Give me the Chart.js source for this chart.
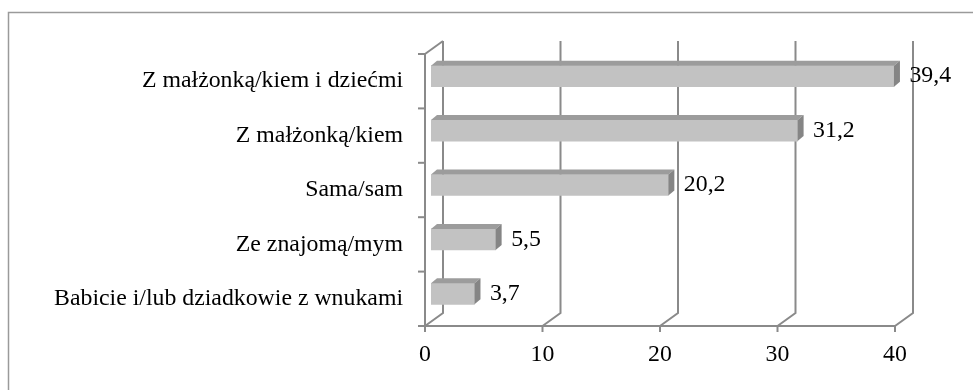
<!DOCTYPE html>
<html>
<head>
<meta charset="utf-8">
<script src="https://cdn.jsdelivr.net/npm/chart.js@4/dist/chart.umd.min.js"></script>
<style>
  html, body { margin: 0; padding: 0; background: #ffffff; }
  canvas { display: block; }
</style>
</head>
<body>
<canvas id="chart" width="973" height="390"></canvas>
<script>
// Living arrangement categories and their shares (%)
const categories = [
  'Z małżonką/kiem i dziećmi',
  'Z małżonką/kiem',
  'Sama/sam',
  'Ze znajomą/mym',
  'Babicie i/lub dziadkowie z wnukami'
];
const shares = [39.4, 31.2, 20.2, 5.5, 3.7];
const axisTicks = [0, 10, 20, 30, 40];

const FONT_FAMILY = '"Liberation Serif", "Times New Roman", serif';
const FONT_SIZE = 23.8;
const LINE_COLOR = '#8a8a8a';
const WALL = { dx: 18, dy: 13 };            // depth of the back wall
const BAR = { dx: 6, dy: 5, sx: 6, sy: -5 }; // bar depth and its offset into the box

const formatValue = v => v.toFixed(1).replace('.', ',');

// Draws the frame, the 3D box walls and the front axes
const boxPlugin = {
  id: 'box3d',
  beforeDraw(chart) {
    const { ctx, chartArea: a, scales } = chart;
    const x = scales.x, y = scales.y;
    ctx.save();

    // outer frame
    ctx.strokeStyle = '#9a9a9a';
    ctx.lineWidth = 1.5;
    ctx.beginPath();
    ctx.moveTo(8.5, 390);
    ctx.lineTo(8.5, 12.5);
    ctx.lineTo(973, 12.5);
    ctx.stroke();

    ctx.strokeStyle = LINE_COLOR;
    ctx.lineWidth = 2;

    // back wall gridlines joined to the floor by diagonals
    axisTicks.forEach(v => {
      const px = x.getPixelForValue(v);
      ctx.beginPath();
      ctx.moveTo(px, a.bottom);
      ctx.lineTo(px + WALL.dx, a.bottom - WALL.dy);
      ctx.lineTo(px + WALL.dx, a.top - WALL.dy);
      ctx.stroke();
      // tick mark under the floor edge
      ctx.beginPath();
      ctx.moveTo(px, a.bottom);
      ctx.lineTo(px, a.bottom + 6);
      ctx.stroke();
    });

    // top edge of the side wall
    ctx.beginPath();
    ctx.moveTo(a.left, a.top);
    ctx.lineTo(a.left + WALL.dx, a.top - WALL.dy);
    ctx.stroke();

    // front axes
    ctx.beginPath();
    ctx.moveTo(a.left, a.top);
    ctx.lineTo(a.left, a.bottom);
    ctx.lineTo(a.right, a.bottom);
    ctx.stroke();

    // category boundary ticks
    for (let i = 0; i <= categories.length; i++) {
      const py = y.getPixelForValue(i - 0.5);
      ctx.beginPath();
      ctx.moveTo(a.left - 7, py);
      ctx.lineTo(a.left, py);
      ctx.stroke();
    }
    ctx.restore();
  },
  beforeDatasetsDraw(chart) {
    chart.ctx.save();
    chart.ctx.translate(BAR.sx, BAR.sy);
  },
  afterDatasetsDraw(chart) {
    const ctx = chart.ctx;
    const meta = chart.getDatasetMeta(0);
    // top and end faces of each bar
    meta.data.forEach(bar => {
      const p = bar.getProps(['x', 'y', 'base', 'height'], true);
      const top = p.y - p.height / 2;
      const bottom = p.y + p.height / 2;
      const left = p.base, right = p.x;
      ctx.fillStyle = '#9c9c9c';
      ctx.beginPath();
      ctx.moveTo(left, top);
      ctx.lineTo(left + BAR.dx, top - BAR.dy);
      ctx.lineTo(right + BAR.dx, top - BAR.dy);
      ctx.lineTo(right, top);
      ctx.closePath();
      ctx.fill();
      ctx.fillStyle = '#858585';
      ctx.beginPath();
      ctx.moveTo(right, top);
      ctx.lineTo(right + BAR.dx, top - BAR.dy);
      ctx.lineTo(right + BAR.dx, bottom - BAR.dy);
      ctx.lineTo(right, bottom);
      ctx.closePath();
      ctx.fill();
    });
    ctx.restore();

    // value labels
    ctx.save();
    ctx.fillStyle = '#000000';
    ctx.font = FONT_SIZE + 'px ' + FONT_FAMILY;
    ctx.textAlign = 'left';
    ctx.textBaseline = 'middle';
    meta.data.forEach((bar, i) => {
      const p = bar.getProps(['x', 'y'], true);
      ctx.fillText(formatValue(shares[i]), p.x + BAR.sx + BAR.dx + 9.5, p.y + BAR.sy);
    });
    ctx.restore();
  }
};

new Chart(document.getElementById('chart'), {
  type: 'bar',
  data: {
    labels: categories,
    datasets: [{
      data: shares,
      backgroundColor: '#c2c2c2',
      borderWidth: 0,
      barThickness: 21
    }]
  },
  options: {
    indexAxis: 'y',
    responsive: false,
    animation: false,
    devicePixelRatio: 1,
    layout: { padding: { left: 0, right: 78, top: 54, bottom: 0 } },
    plugins: {
      legend: { display: false },
      tooltip: { enabled: false }
    },
    scales: {
      x: {
        min: 0,
        max: 40,
        afterFit(scale) { scale.height = 64; },
        afterBuildTicks(scale) { scale.ticks = axisTicks.map(v => ({ value: v })); },
        grid: { display: false, drawTicks: false },
        border: { display: false },
        ticks: {
          padding: 14,
          color: '#000000',
          font: { family: FONT_FAMILY, size: FONT_SIZE }
        }
      },
      y: {
        afterFit(scale) { scale.width = 425; },
        grid: { display: false, drawTicks: false },
        border: { display: false },
        ticks: {
          padding: 22,
          color: '#000000',
          font: { family: FONT_FAMILY, size: FONT_SIZE }
        }
      }
    }
  },
  plugins: [boxPlugin]
});
</script>
</body>
</html>
